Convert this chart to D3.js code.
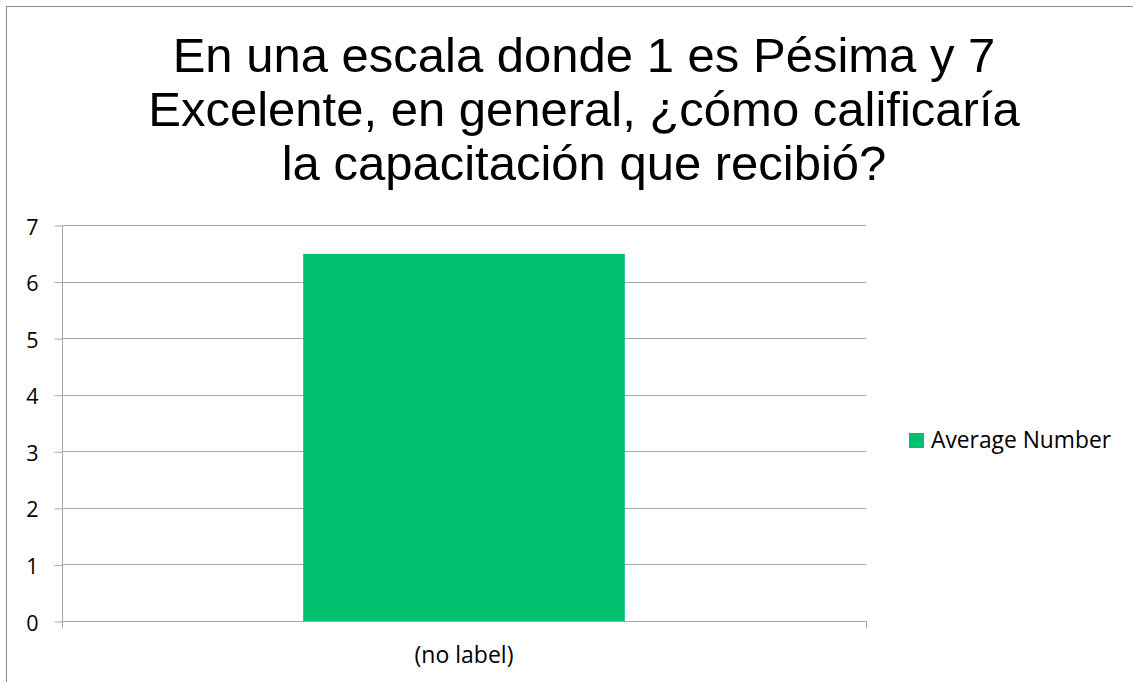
<!DOCTYPE html>
<html><head><meta charset="utf-8">
<script src="https://cdn.jsdelivr.net/npm/d3@7"></script>
<style>body{margin:0;background:#fff}svg{display:block}</style>
</head><body>
<script>
const titleLines = ["En una escala donde 1 es Pésima y 7", "Excelente, en general, ¿cómo calificaría", "la capacitación que recibió?"];
const categories = ["(no label)"];
const seriesName = "Average Number";
const values = [6.49];
const yTicks = [0, 1, 2, 3, 4, 5, 6, 7];

const W = 1133, H = 682;
const svg = d3.select("body").append("svg").attr("width", W).attr("height", H);
svg.append("rect").attr("x", 6.5).attr("y", 6.5).attr("width", W + 10).attr("height", H + 10)
  .attr("fill", "#fff").attr("stroke", "#8c8c8c").attr("stroke-width", 1);

const pL = 62, pR = 866, pT = 225, pB = 621;
const x = d3.scaleBand().domain(categories).range([pL, pR]).paddingInner(0).paddingOuter(0.75);
const y = d3.scaleLinear().domain([0, 7]).range([pB, pT]);
const grey = "#a6a6a6";
const font = "'Open Sans', Carlito, Lato, sans-serif";

// gridlines
svg.append("g").selectAll("line").data(yTicks.filter(d => d > 0)).join("line")
  .attr("x1", pL).attr("x2", pR).attr("y1", d => Math.round(y(d)) + 0.5).attr("y2", d => Math.round(y(d)) + 0.5)
  .attr("stroke", grey).attr("stroke-width", 1);

// bars
svg.append("g").selectAll("rect").data(values).join("rect")
  .attr("x", (d, i) => x(categories[i])).attr("width", x.bandwidth())
  .attr("y", d => y(d)).attr("height", d => y(0) - y(d)).attr("fill", "#00bf6f");

// y axis
const yAxis = d3.axisLeft(y).tickValues(yTicks).tickSize(8).tickPadding(16).tickFormat(d3.format("d"));
const gy = svg.append("g").attr("transform", `translate(${pL + 0.5},0.5)`).call(yAxis);
gy.select(".domain").attr("stroke", grey).attr("d", `M0,${pT}V${pB + 7}`);
gy.selectAll(".tick line").attr("stroke", grey);
gy.selectAll(".tick text").attr("font-family", font).attr("font-size", 21.5).attr("fill", "#000").attr("dy", "0.4em");

// x axis
const xAxis = d3.axisBottom(x).tickSize(0).tickPadding(25);
const gx = svg.append("g").attr("transform", `translate(0,${pB + 0.5})`).call(xAxis);
gx.select(".domain").attr("stroke", grey).attr("d", `M${pL},0H${pR + 0.5}V7`);
gx.selectAll(".tick text").attr("font-family", font).attr("font-size", 23).attr("fill", "#000");

// title
svg.append("text").attr("text-anchor", "middle")
  .attr("font-family", "'Liberation Sans', Arial, sans-serif").attr("font-size", 49).attr("fill", "#000")
  .selectAll("tspan").data(titleLines).join("tspan")
  .attr("x", 584).attr("y", (d, i) => 72 + i * 54).text(d => d);

// legend
const lg = svg.append("g").attr("transform", "translate(909,433)");
lg.append("rect").attr("width", 15).attr("height", 15).attr("fill", "#00bf6f");
lg.append("text").attr("x", 22).attr("y", 15).attr("font-family", font)
  .attr("font-size", 22.8).attr("fill", "#000").text(seriesName);
</script>
</body></html>
